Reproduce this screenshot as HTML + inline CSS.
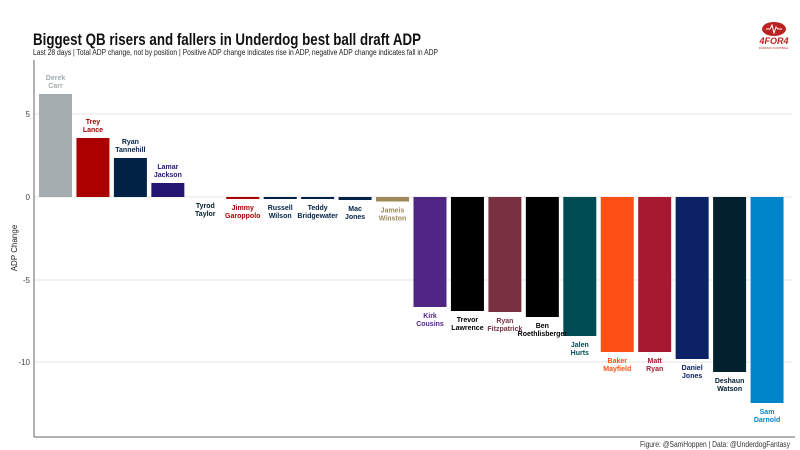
<!DOCTYPE html>
<html><head><style>body{margin:0;background:#fff}svg{display:block}</style></head><body>
<svg width="800" height="450" xmlns="http://www.w3.org/2000/svg" font-family="Liberation Sans, sans-serif">
<text x="33" y="45" font-size="17" font-weight="bold" fill="#111" textLength="388" lengthAdjust="spacingAndGlyphs">Biggest QB risers and fallers in Underdog best ball draft ADP</text>
<text x="33" y="55" font-size="8" fill="#222" textLength="405" lengthAdjust="spacingAndGlyphs">Last 28 days | Total ADP change, not by position | Positive ADP change indicates rise in ADP, negative ADP change indicates fall in ADP</text>
<g stroke="#e6e6e6" stroke-width="1"><line x1="34" x2="792" y1="114" y2="114"/><line x1="34" x2="792" y1="197" y2="197"/><line x1="34" x2="792" y1="280" y2="280"/><line x1="34" x2="792" y1="362" y2="362"/></g>
<line x1="34" x2="34" y1="60" y2="437" stroke="#666"/>
<line x1="34" x2="795" y1="437" y2="437" stroke="#666"/>
<g font-size="8" fill="#444" text-anchor="end"><text x="30" y="117">5</text><text x="30" y="200">0</text><text x="30" y="283">-5</text><text x="30" y="365">-10</text></g>
<text transform="translate(17,248) rotate(-90)" font-size="8" fill="#222" text-anchor="middle">ADP Change</text>
<g>
<rect x="39" y="94" width="33" height="103" fill="#a5acaf"/>
<rect x="76.45" y="138" width="33" height="59" fill="#aa0000"/>
<rect x="113.9" y="158" width="33" height="39" fill="#002244"/>
<rect x="151.35" y="183" width="33" height="14" fill="#241773"/>
<rect x="226.25" y="197" width="33" height="2" fill="#aa0000"/>
<rect x="263.7" y="197" width="33" height="2" fill="#002244"/>
<rect x="301.15" y="197" width="33" height="2" fill="#002244"/>
<rect x="338.6" y="197" width="33" height="3" fill="#002244"/>
<rect x="376.05" y="197" width="33" height="4.5" fill="#9f8958"/>
<rect x="413.5" y="197" width="33" height="110" fill="#4f2683"/>
<rect x="450.95" y="197" width="33" height="114" fill="#000000"/>
<rect x="488.4" y="197" width="33" height="115" fill="#773141"/>
<rect x="525.85" y="197" width="33" height="120" fill="#000000"/>
<rect x="563.3" y="197" width="33" height="139" fill="#004c54"/>
<rect x="600.75" y="197" width="33" height="155" fill="#fe5014"/>
<rect x="638.2" y="197" width="33" height="155" fill="#a71930"/>
<rect x="675.65" y="197" width="33" height="162" fill="#0b2265"/>
<rect x="713.1" y="197" width="33" height="175" fill="#03202f"/>
<rect x="750.55" y="197" width="33" height="206" fill="#0085ca"/>
</g>
<g font-size="7" font-weight="bold" text-anchor="middle">
<text x="55.5" y="80" fill="#a5acaf">Derek</text><text x="55.5" y="88" fill="#a5acaf">Carr</text>
<text x="92.95" y="124" fill="#aa0000">Trey</text><text x="92.95" y="132" fill="#aa0000">Lance</text>
<text x="130.4" y="144" fill="#002244">Ryan</text><text x="130.4" y="152" fill="#002244">Tannehill</text>
<text x="167.85" y="169" fill="#241773">Lamar</text><text x="167.85" y="177" fill="#241773">Jackson</text>
<text x="205.3" y="208" fill="#03202f">Tyrod</text><text x="205.3" y="216" fill="#03202f">Taylor</text>
<text x="242.75" y="210" fill="#aa0000">Jimmy</text><text x="242.75" y="218" fill="#aa0000">Garoppolo</text>
<text x="280.2" y="210" fill="#002244">Russell</text><text x="280.2" y="218" fill="#002244">Wilson</text>
<text x="317.65" y="210" fill="#002244">Teddy</text><text x="317.65" y="218" fill="#002244">Bridgewater</text>
<text x="355.1" y="211" fill="#002244">Mac</text><text x="355.1" y="219" fill="#002244">Jones</text>
<text x="392.55" y="212.5" fill="#9f8958">Jameis</text><text x="392.55" y="220.5" fill="#9f8958">Winston</text>
<text x="430" y="318" fill="#4f2683">Kirk</text><text x="430" y="326" fill="#4f2683">Cousins</text>
<text x="467.45" y="322" fill="#000">Trevor</text><text x="467.45" y="330" fill="#000">Lawrence</text>
<text x="504.9" y="323" fill="#773141">Ryan</text><text x="504.9" y="331" fill="#773141">Fitzpatrick</text>
<text x="542.35" y="328" fill="#000">Ben</text><text x="542.35" y="336" fill="#000">Roethlisberger</text>
<text x="579.8" y="347" fill="#004c54">Jalen</text><text x="579.8" y="355" fill="#004c54">Hurts</text>
<text x="617.25" y="363" fill="#fe5014">Baker</text><text x="617.25" y="371" fill="#fe5014">Mayfield</text>
<text x="654.7" y="363" fill="#a71930">Matt</text><text x="654.7" y="371" fill="#a71930">Ryan</text>
<text x="692.15" y="370" fill="#0b2265">Daniel</text><text x="692.15" y="378" fill="#0b2265">Jones</text>
<text x="729.6" y="383" fill="#03202f">Deshaun</text><text x="729.6" y="391" fill="#03202f">Watson</text>
<text x="767.05" y="414" fill="#0085ca">Sam</text><text x="767.05" y="422" fill="#0085ca">Darnold</text>
</g>
<text x="790" y="447" font-size="8" fill="#333" text-anchor="end" textLength="150" lengthAdjust="spacingAndGlyphs">Figure: @SamHoppen | Data: @UnderdogFantasy</text>
<ellipse cx="774" cy="29" rx="12" ry="7" fill="#b22"/>
<polyline points="766,29 770,29 772,25 774,33 776,27 778,29 782,29" fill="none" stroke="#fff" stroke-width="1"/>
<text x="774" y="44" font-size="9" font-weight="bold" font-style="italic" fill="#b22" text-anchor="middle">4FOR4</text>
<text x="774" y="49" font-size="3" fill="#b22" text-anchor="middle">FANTASY FOOTBALL</text>
</svg>
</body></html>
